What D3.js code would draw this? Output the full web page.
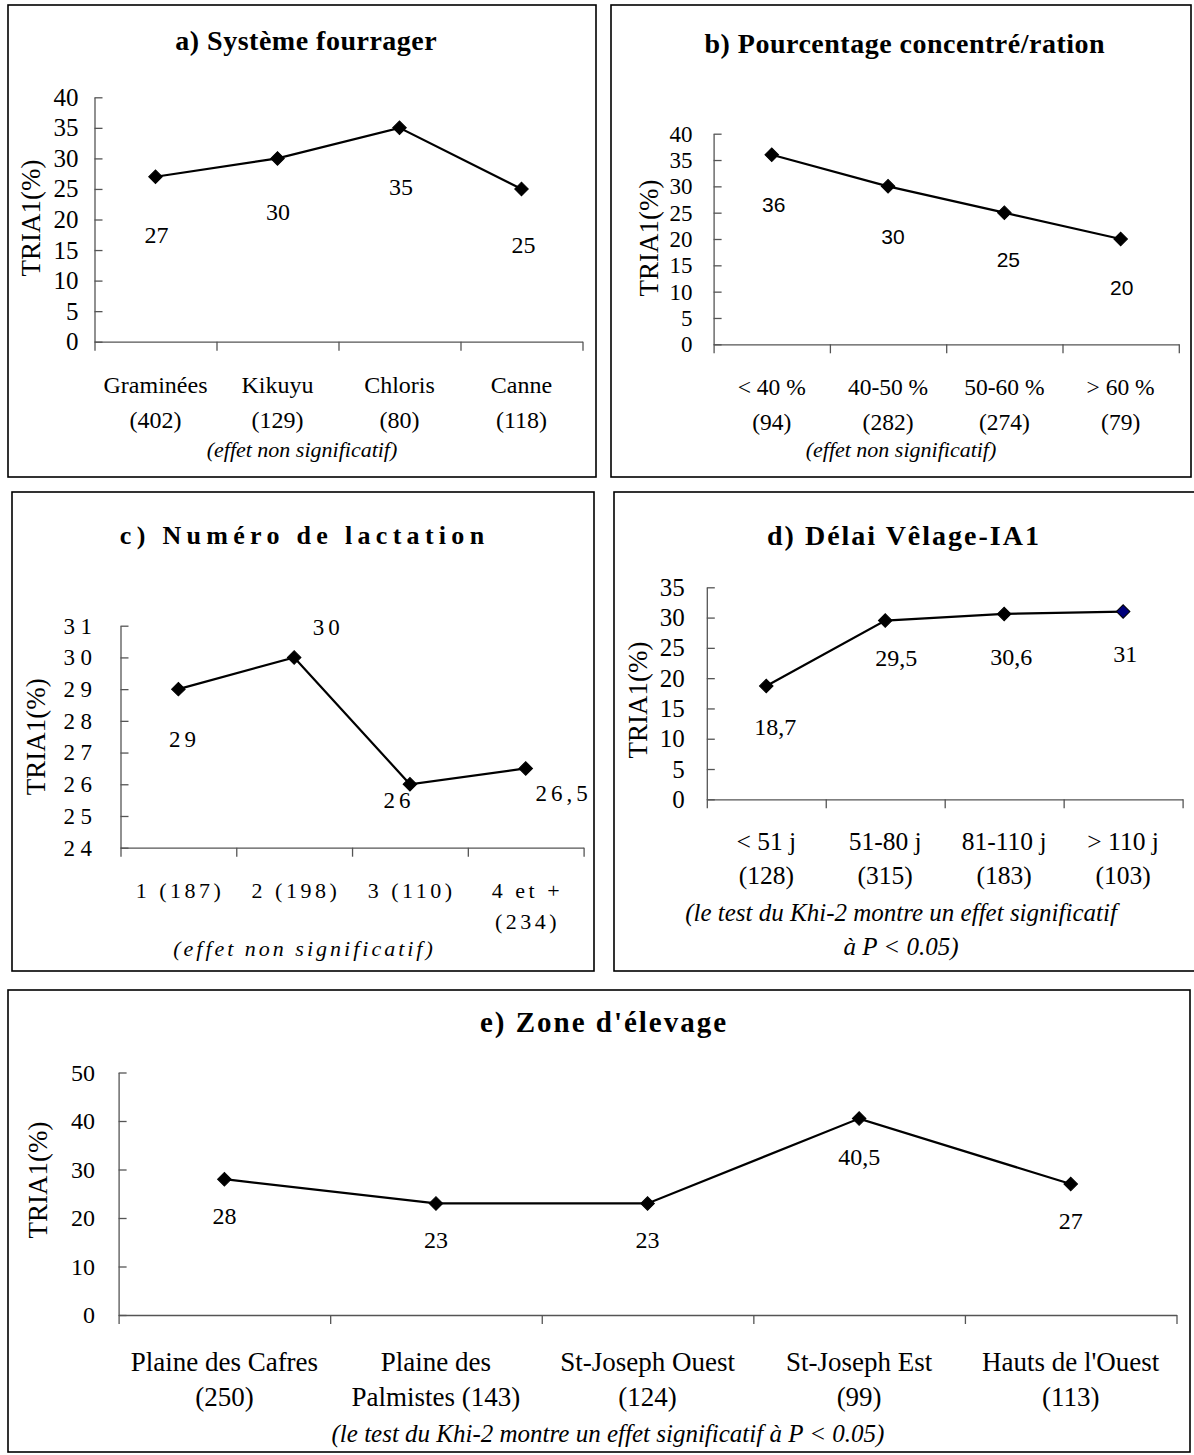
<!DOCTYPE html>
<html>
<head>
<meta charset="utf-8">
<script src="https://cdn.jsdelivr.net/npm/d3@7"></script>
<style>
  html, body { margin: 0; padding: 0; background: #fff; }
  svg { display: block; }
</style>
</head>
<body>
<div id="chart"></div>
<script>
// ---------------- DATA ----------------
const titleA = "a) Système fourrager";
const catsA = [["Graminées", "(402)"], ["Kikuyu", "(129)"], ["Chloris", "(80)"], ["Canne", "(118)"]];
const valuesA = [27, 30, 35, 25];
const ticksA = [0, 5, 10, 15, 20, 25, 30, 35, 40];
const noteA = ["(effet non significatif)"];

const titleB = "b) Pourcentage concentré/ration";
const catsB = [["< 40 %", "(94)"], ["40-50 %", "(282)"], ["50-60 %", "(274)"], ["> 60 %", "(79)"]];
const valuesB = [36, 30, 25, 20];
const ticksB = [0, 5, 10, 15, 20, 25, 30, 35, 40];
const noteB = ["(effet non significatif)"];

const titleC = "c) Numéro de lactation";
const catsC = [["1 (187)"], ["2 (198)"], ["3 (110)"], ["4 et +", "(234)"]];
const valuesC = [29, 30, 26, 26.5];
const ticksC = [24, 25, 26, 27, 28, 29, 30, 31];
const noteC = ["(effet non significatif)"];

const titleD = "d) Délai Vêlage-IA1";
const catsD = [["< 51 j", "(128)"], ["51-80 j", "(315)"], ["81-110 j", "(183)"], ["> 110 j", "(103)"]];
const valuesD = [18.7, 29.5, 30.6, 31];
const ticksD = [0, 5, 10, 15, 20, 25, 30, 35];
const noteD = ["(le test du Khi-2 montre un effet significatif", "à P < 0.05)"];

const titleE = "e) Zone d'élevage";
const catsE = [["Plaine des Cafres", "(250)"], ["Plaine des", "Palmistes (143)"], ["St-Joseph Ouest", "(124)"], ["St-Joseph Est", "(99)"], ["Hauts de l'Ouest", "(113)"]];
const valuesE = [28, 23, 23, 40.5, 27];
const ticksE = [0, 10, 20, 30, 40, 50];
const noteE = ["(le test du Khi-2 montre un effet significatif à P < 0.05)"];

const yTitle = "TRIA1(%)";

// ---------------- LAYOUT ----------------
const SERIF = "'Liberation Serif','Times New Roman',Times,serif";
const SANS = "'Liberation Sans',Arial,Helvetica,sans-serif";

const layout = [
  { title: titleA, cats: catsA, values: valuesA, ticks: ticksA, note: noteA,
    box: [8, 5, 596, 477], titlePos: [306, 40], titleSize: 28, titleLS: 0.5,
    x0: 94.5, x1: 582.5, y0: 341.7, y1: 97.3, domain: [0, 40],
    tickPad: 16, tickSize: 25, tickLS: 0,
    catY: [385, 420], catSize: 24, catLS: 0,
    noteX: 302, noteY: [449], noteSize: 22, noteLS: 0,
    yTitlePos: [31, 218],
    valFont: SERIF, valSize: 24, valLS: 0,
    nudge: [[1, 58.5], [0.6, 53.6], [1.5, 59], [2, 55.7]], lastColor: "#000" },
  { title: titleB, cats: catsB, values: valuesB, ticks: ticksB, note: noteB,
    box: [611, 5, 1191, 477], titlePos: [904.5, 43], titleSize: 28, titleLS: 0.5,
    x0: 713.6, x1: 1178.8, y0: 344.3, y1: 133.7, domain: [0, 40],
    tickPad: 21, tickSize: 23, tickLS: 0,
    catY: [386.7, 421.7], catSize: 23.5, catLS: 0,
    noteX: 901, noteY: [449], noteSize: 22, noteLS: 0,
    yTitlePos: [648.5, 238],
    valFont: SANS, valSize: 21, valLS: 0,
    nudge: [[2, 50], [5, 50], [4, 47], [1, 48]], lastColor: "#000" },
  { title: titleC, cats: catsC, values: valuesC, ticks: ticksC, note: noteC,
    box: [12, 492, 594, 971], titlePos: [302, 535], titleSize: 26, titleLS: 5.3,
    x0: 120.5, x1: 583.6, y0: 847.7, y1: 625.7, domain: [24, 31],
    tickPad: 23, tickSize: 23, tickLS: 5.5,
    catY: [890, 921], catSize: 22, catLS: 3.5,
    noteX: 303, noteY: [948], noteSize: 22, noteLS: 3,
    yTitlePos: [36.4, 736.7],
    valFont: SERIF, valSize: 23, valLS: 4,
    nudge: [[4, 50], [32, -30], [-13, 16], [36, 25]], lastColor: "#000" },
  { title: titleD, cats: catsD, values: valuesD, ticks: ticksD, note: noteD,
    box: [614, 492, 1202, 971], titlePos: [903, 535], titleSize: 28, titleLS: 2,
    x0: 706.8, x1: 1182.6, y0: 799.3, y1: 587.3, domain: [0, 35],
    tickPad: 22, tickSize: 25, tickLS: 0,
    catY: [841.7, 875], catSize: 25.5, catLS: 0,
    noteX: 901, noteY: [912, 946], noteSize: 25, noteLS: 0,
    yTitlePos: [637.9, 700],
    valFont: SERIF, valSize: 24, valLS: 0,
    nudge: [[9, 41], [11, 37], [7, 43], [2, 42]], lastColor: "#00007a" },
  { title: titleE, cats: catsE, values: valuesE, ticks: ticksE, note: noteE,
    box: [8, 990, 1190, 1452], titlePos: [603, 1022], titleSize: 29, titleLS: 2,
    x0: 118.6, x1: 1176.5, y0: 1315, y1: 1072.5, domain: [0, 50],
    tickPad: 23.6, tickSize: 24, tickLS: 0,
    catY: [1362, 1397], catSize: 27, catLS: 0,
    noteX: 608, noteY: [1433], noteSize: 25, noteLS: 0,
    yTitlePos: [38.3, 1180],
    valFont: SERIF, valSize: 24, valLS: 0,
    nudge: [[0, 37], [0, 37], [0, 37], [0, 38], [0, 37]], lastColor: "#000" }
];

// ---------------- DRAW ----------------
const svg = d3.select("#chart").append("svg")
  .attr("width", 1194).attr("height", 1455)
  .style("font-family", SERIF);

const fmt = v => String(v).replace(".", ",");
const diamond = d3.symbol().type(d3.symbolSquare).size(92);

function drawPanel(p) {
  const g = svg.append("g");
  const n = p.values.length;

  g.append("rect")
    .attr("x", p.box[0]).attr("y", p.box[1])
    .attr("width", p.box[2] - p.box[0]).attr("height", p.box[3] - p.box[1])
    .attr("fill", "none").attr("stroke", "#000").attr("stroke-width", 1.6);

  g.append("text")
    .attr("x", p.titlePos[0] + p.titleLS / 2).attr("y", p.titlePos[1])
    .attr("text-anchor", "middle").attr("dominant-baseline", "central")
    .attr("font-weight", "bold").attr("font-size", p.titleSize)
    .attr("letter-spacing", p.titleLS)
    .text(p.title);

  const x = d3.scaleLinear().domain([0, n]).range([p.x0, p.x1]);
  const y = d3.scaleLinear().domain(p.domain).range([p.y0, p.y1]);

  // y axis (ticks pointing inside, labels on the left)
  const ya = g.append("g").attr("transform", `translate(${p.x0},0)`)
    .call(d3.axisLeft(y).tickValues(p.ticks).tickSizeInner(-8).tickSizeOuter(0)
      .tickPadding(p.tickPad).tickFormat(d => fmt(d)));
  ya.select(".domain").attr("stroke", "#555").attr("stroke-width", 1.3);
  ya.selectAll(".tick line").attr("stroke", "#555").attr("stroke-width", 1.3);
  ya.selectAll(".tick text")
    .attr("font-family", SERIF).attr("font-size", p.tickSize)
    .attr("letter-spacing", p.tickLS).attr("fill", "#000");

  // x axis (category boundaries)
  const xa = g.append("g").attr("transform", `translate(0,${p.y0})`)
    .call(d3.axisBottom(x).tickValues(d3.range(n + 1)).tickSizeInner(9).tickSizeOuter(0).tickFormat(""));
  xa.select(".domain").attr("stroke", "#555").attr("stroke-width", 1.3);
  xa.selectAll(".tick line").attr("stroke", "#555").attr("stroke-width", 1.3);

  // category labels
  p.cats.forEach((lines, i) => {
    lines.forEach((t, j) => {
      g.append("text")
        .attr("x", x(i + 0.5) + p.catLS / 2).attr("y", p.catY[j])
        .attr("text-anchor", "middle").attr("dominant-baseline", "central")
        .attr("font-size", p.catSize).attr("letter-spacing", p.catLS)
        .text(t);
    });
  });

  // notes
  p.note.forEach((t, j) => {
    g.append("text")
      .attr("x", p.noteX + p.noteLS / 2)
      .attr("y", p.noteY[j])
      .attr("text-anchor", "middle").attr("dominant-baseline", "central")
      .attr("font-style", "italic").attr("font-size", p.noteSize)
      .attr("letter-spacing", p.noteLS)
      .text(t);
  });

  // y title
  g.append("text")
    .attr("transform", `translate(${p.yTitlePos[0]},${p.yTitlePos[1]}) rotate(-90)`)
    .attr("text-anchor", "middle").attr("dominant-baseline", "central")
    .attr("font-size", 27)
    .text(yTitle);

  // line
  const line = d3.line().x((d, i) => x(i + 0.5)).y(d => y(d));
  g.append("path").datum(p.values)
    .attr("d", line).attr("fill", "none")
    .attr("stroke", "#000").attr("stroke-width", 2.2);

  // markers
  g.selectAll(".mk").data(p.values).enter().append("path")
    .attr("d", diamond)
    .attr("transform", (d, i) => `translate(${x(i + 0.5)},${y(d)}) rotate(45)`)
    .attr("fill", (d, i) => i === n - 1 ? p.lastColor : "#000")
    .attr("stroke", "#000").attr("stroke-width", 1);

  // value labels
  g.selectAll(".vl").data(p.values).enter().append("text")
    .attr("x", (d, i) => x(i + 0.5) + p.nudge[i][0] + p.valLS / 2)
    .attr("y", (d, i) => y(d) + p.nudge[i][1])
    .attr("text-anchor", "middle").attr("dominant-baseline", "central")
    .attr("font-family", p.valFont).attr("font-size", p.valSize)
    .attr("letter-spacing", p.valLS)
    .text(d => fmt(d));
}

layout.forEach(drawPanel);
</script>
</body>
</html>
